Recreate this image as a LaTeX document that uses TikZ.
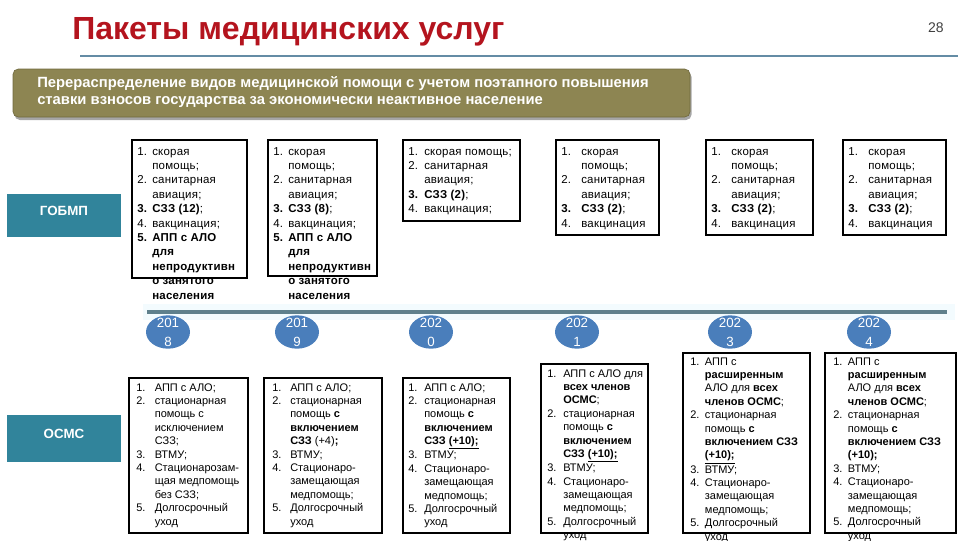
\documentclass[tikz,border=0pt]{standalone}
\usepackage{fontspec}
\setmainfont{Liberation Sans}
\usetikzlibrary{shapes.geometric,fit}
\definecolor{titlered}{RGB}{180,20,30}
\definecolor{rulecol}{RGB}{100,140,165}
\definecolor{olive}{RGB}{141,133,82}
\definecolor{olivedark}{RGB}{112,105,62}
\definecolor{labteal}{RGB}{49,132,155}
\definecolor{barcol}{RGB}{95,128,140}
\definecolor{yrblue}{RGB}{74,126,187}
\definecolor{bandcol}{RGB}{243,251,254}
\newcommand\toptxt{\fontsize{8.6}{10.8}\selectfont\addfontfeature{LetterSpace=2}}
\newcommand\bottxt{\fontsize{8.25}{10.05}\selectfont}
\newcommand\yrfont{\fontsize{10}{14.25}\selectfont}
\newcommand\titlefont{\fontsize{24}{28}\selectfont\bfseries}
\newcommand\banfont{\fontsize{11.1}{12.75}\selectfont\bfseries}
\newcommand\labfont{\fontsize{10}{12}\selectfont\bfseries}
\newcommand\itemtab[2]{\begin{tabular}[t]{@{}p{#1}@{}l@{}}#2\end{tabular}}
\tikzset{
  box/.style={draw=black, line width=0.8pt, fill=white, inner sep=0pt},
  ttxt/.style={anchor=base west, inner sep=0pt, font=\toptxt},
  btxt/.style={anchor=base west, inner sep=0pt, font=\bottxt},
  lab/.style={fill=labteal, text=white, font=\labfont, inner sep=0pt},
  yr/.style={ellipse, fill=yrblue, minimum width=33pt, minimum height=25pt, inner sep=0pt},
  yrt/.style={text=white, font=\yrfont, align=center, inner sep=0pt},
  bantxt/.style={anchor=base west, inner sep=0pt, text=white, font=\banfont},
}
\begin{document}
\begin{tikzpicture}[x=0.75pt,y=-0.75pt]
\useasboundingbox (0,0) rectangle (960,540);
% title
\node[anchor=base west, inner sep=0pt, text=titlered, font=\titlefont] (title) at (72,39) {Пакеты медицинских услуг};
\node[anchor=base east, inner sep=0pt, text=black!75, font=\fontsize{10.5}{12}\selectfont] (pnum) at (944,32) {28};
\coordinate (rl) at (80,56);
\coordinate (rr) at (958,56);
\draw[rulecol, line width=0.8pt] (rl) -- (rr);
% banner
\node[fill=black!35, rounded corners=4pt, inner sep=0pt, fit={(14.5,71.5) (691.5,120)}] (bshadow) {};
\node[fill=olive, draw=olivedark, line width=0.5pt, rounded corners=4pt, inner sep=0pt, fit={(13,69) (690,117)}] (banner) {};
\node[bantxt] (ban1) at (37,87) {Перераспределение видов медицинской помощи с учетом поэтапного повышения};
\node[bantxt] (ban2) at (37,104) {ставки взносов государства за экономически неактивное население};
% row labels
\node[lab, fit={(7,194) (121,237)}] (gobmp) {ГОБМП};
\node[lab, fit={(7,415) (121,462)}] (osmc) {ОСМС};
% top boxes
\node[box, fit={(132,140) (247,278)}] (t1) {};
\node[box, fit={(268,140) (377,276)}] (t2) {};
\node[box, fit={(403,140) (520,221)}] (t3) {};
\node[box, fit={(556,140) (659,235)}] (t4) {};
\node[box, fit={(706,140) (813,235)}] (t5) {};
\node[box, fit={(843,140) (946,235)}] (t6) {};
\node[ttxt] (t1x) at (137,155) {\itemtab{11.25pt}{1.&скорая\\ &помощь;\\ 2.&санитарная\\ &авиация;\\ \textbf{3.}&\textbf{СЗЗ (12)};\\ 4.&вакцинация;\\ \textbf{5.}&\textbf{АПП с АЛО}\\ &\textbf{для}\\ &\textbf{непродуктивн}\\ &\textbf{о занятого}\\ &\textbf{населения}}};
\node[ttxt] (t2x) at (273,155) {\itemtab{11.25pt}{1.&скорая\\ &помощь;\\ 2.&санитарная\\ &авиация;\\ \textbf{3.}&\textbf{СЗЗ (8)};\\ 4.&вакцинация;\\ \textbf{5.}&\textbf{АПП с АЛО}\\ &\textbf{для}\\ &\textbf{непродуктивн}\\ &\textbf{о занятого}\\ &\textbf{населения}}};
\node[ttxt] (t3x) at (408,155) {\itemtab{12pt}{1.&скорая помощь;\\ 2.&санитарная\\ &авиация;\\ \textbf{3.}&\textbf{СЗЗ (2)};\\ 4.&вакцинация;}};
\node[ttxt] (t4x) at (561,155) {\itemtab{15pt}{1.&скорая\\ &помощь;\\ 2.&санитарная\\ &авиация;\\ \textbf{3.}&\textbf{СЗЗ (2)};\\ 4.&вакцинация}};
\node[ttxt] (t5x) at (711,155) {\itemtab{15pt}{1.&скорая\\ &помощь;\\ 2.&санитарная\\ &авиация;\\ \textbf{3.}&\textbf{СЗЗ (2)};\\ 4.&вакцинация}};
\node[ttxt] (t6x) at (848,155) {\itemtab{15pt}{1.&скорая\\ &помощь;\\ 2.&санитарная\\ &авиация;\\ \textbf{3.}&\textbf{СЗЗ (2)};\\ 4.&вакцинация}};
% timeline
\node[fill=bandcol, inner sep=0pt, fit={(143,304) (955,320)}] (band) {};
\coordinate (tl) at (147,312);
\coordinate (tr) at (947,312);
\draw[barcol, line width=3pt] (tl) -- (tr);
\foreach \nm/\xx/\ya/\yb in {y18/168/201/8, y19/297/201/9, y20/431/202/0, y21/577/202/1, y23/730/202/3, y24/869/202/4}{
  \node[yr] (\nm) at (\xx,332) {};
  \node[yrt] (\nm t) at (\nm.center) {\ya\\\yb};
}
% bottom boxes
\node[box, fit={(129,378) (248,533)}] (b1) {};
\node[box, fit={(264,378) (382,533)}] (b2) {};
\node[box, fit={(403,378) (510,533)}] (b3) {};
\node[box, fit={(541,364) (648,533)}] (b4) {};
\node[box, fit={(683,353) (810,533)}] (b5) {};
\node[box, fit={(825,353) (956,533)}] (b6) {};
\node[btxt] (b1x) at (136,391) {\itemtab{13.9pt}{1.&АПП с АЛО;\\ 2.&стационарная\\ &помощь с\\ &исключением\\ &СЗЗ;\\ 3.&ВТМУ;\\ 4.&Стационарозам-\\ &щая медпомощь\\ &без СЗЗ;\\ 5.&Долгосрочный\\ &уход}};
\node[btxt] (b2x) at (272,391) {\itemtab{13.5pt}{1.&АПП с АЛО;\\ 2.&стационарная\\ &помощь \textbf{с}\\ &\textbf{включением}\\ &\textbf{СЗЗ} (+4)\textbf{;}\\ 3.&ВТМУ;\\ 4.&Стационаро-\\ &замещающая\\ &медпомощь;\\ 5.&Долгосрочный\\ &уход}};
\node[btxt] (b3x) at (408,391) {\itemtab{12pt}{1.&АПП с АЛО;\\ 2.&стационарная\\ &помощь \textbf{с}\\ &\textbf{включением}\\ &\textbf{СЗЗ \underline{(+10);}}\\ 3.&ВТМУ;\\ 4.&Стационаро-\\ &замещающая\\ &медпомощь;\\ 5.&Долгосрочный\\ &уход}};
\node[btxt] (b4x) at (547,377) {\itemtab{12pt}{1.&АПП с АЛО для\\ &\textbf{всех членов}\\ &\textbf{ОСМС};\\ 2.&стационарная\\ &помощь \textbf{с}\\ &\textbf{включением}\\ &\textbf{СЗЗ \underline{(+10);}}\\ 3.&ВТМУ;\\ 4.&Стационаро-\\ &замещающая\\ &медпомощь;\\ 5.&Долгосрочный\\ &уход}};
\node[btxt] (b5x) at (690,365) {\itemtab{11pt}{1.&АПП с\\ &\textbf{расширенным}\\ &АЛО для \textbf{всех}\\ &\textbf{членов ОСМС};\\ 2.&стационарная\\ &помощь \textbf{с}\\ &\textbf{включением СЗЗ}\\ &\textbf{\underline{(+10);}}\\ 3.&ВТМУ;\\ 4.&Стационаро-\\ &замещающая\\ &медпомощь;\\ 5.&Долгосрочный\\ &уход}};
\node[btxt] (b6x) at (833,365) {\itemtab{11pt}{1.&АПП с\\ &\textbf{расширенным}\\ &АЛО для \textbf{всех}\\ &\textbf{членов ОСМС};\\ 2.&стационарная\\ &помощь \textbf{с}\\ &\textbf{включением СЗЗ}\\ &\textbf{(+10);}\\ 3.&ВТМУ;\\ 4.&Стационаро-\\ &замещающая\\ &медпомощь;\\ 5.&Долгосрочный\\ &уход}};
\end{tikzpicture}
\end{document}
